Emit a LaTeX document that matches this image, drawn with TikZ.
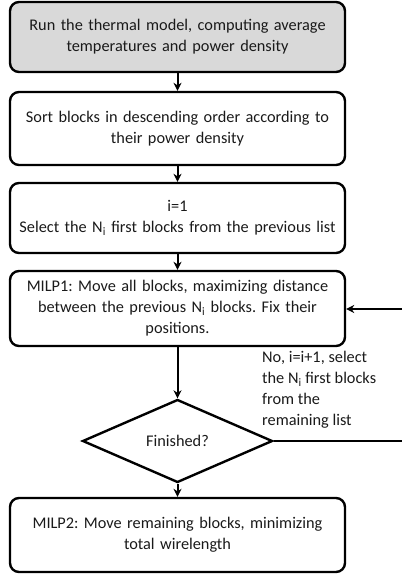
\documentclass[tikz,border=0pt]{standalone}
\usepackage{fontspec}
\setmainfont{Carlito}
\frenchspacing
\usetikzlibrary{shapes.geometric,arrows.meta}
\definecolor{txt}{HTML}{1A1A1A}
\definecolor{boxgray}{HTML}{D9D9D9}
\tikzset{
  stepbox/.style={draw=black, line width=2.4pt, rounded corners=9pt, minimum width=335pt, text width=325pt, align=center, font=\fontsize{16.3}{21}\selectfont, text=txt, inner sep=0pt},
  decide/.style={draw=black, line width=2.4pt, diamond, minimum width=190pt, minimum height=83pt, inner sep=0pt, font=\fontsize{16.3}{21}\selectfont, text=txt},
  conn/.style={draw=black, line width=2pt, -{Stealth[length=8pt,width=8pt]}},
  plain/.style={draw=black, line width=2pt}
}
\begin{document}
\begin{tikzpicture}[x=1pt,y=1pt]
\useasboundingbox (0,0) rectangle (402,-579);
\node[stepbox, fill=boxgray, minimum height=70pt] (b1) at (177.5,-37) {Run the thermal model, computing average\\temperatures and power density};
\node[stepbox, minimum height=73pt] (b2) at (177.5,-128.5) {Sort blocks in descending order according to\\their power density};
\node[stepbox, minimum height=70pt] (b3) at (177.5,-218) {i=1\\Select the N$_{\mathrm{i}}$ first blocks from the previous list};
\node[stepbox, minimum height=75pt] (b4) at (177.5,-308.5) {MILP1: Move all blocks, maximizing distance\\between the previous N$_{\mathrm{i}}$ blocks. Fix their\\positions.};
\node[decide] (d) at (177.5,-441) {Finished?};
\node[stepbox, minimum height=74pt] (b5) at (177.5,-535) {MILP2: Move remaining blocks, minimizing\\total wirelength};
\draw[conn] (b1) -- (b2);
\draw[conn] (b2) -- (b3);
\draw[conn] (b3) -- (b4);
\draw[conn] (b4) -- (d);
\draw[conn] (d) -- (b5);
\coordinate (r1) at (410,-441);
\coordinate (r2) at (410,-309);
\draw[plain] (d.east) -- (r1) -- (r2);
\draw[conn] (r2) -- (b4.east |- r2);
\node[anchor=north west, align=left, inner sep=0pt, font=\fontsize{16.3}{21}\selectfont, text=txt] (lbl) at (262,-351) {No, i=i+1, select\\the N$_{\mathrm{i}}$ first blocks\\from the\\remaining list};
\end{tikzpicture}
\end{document}
